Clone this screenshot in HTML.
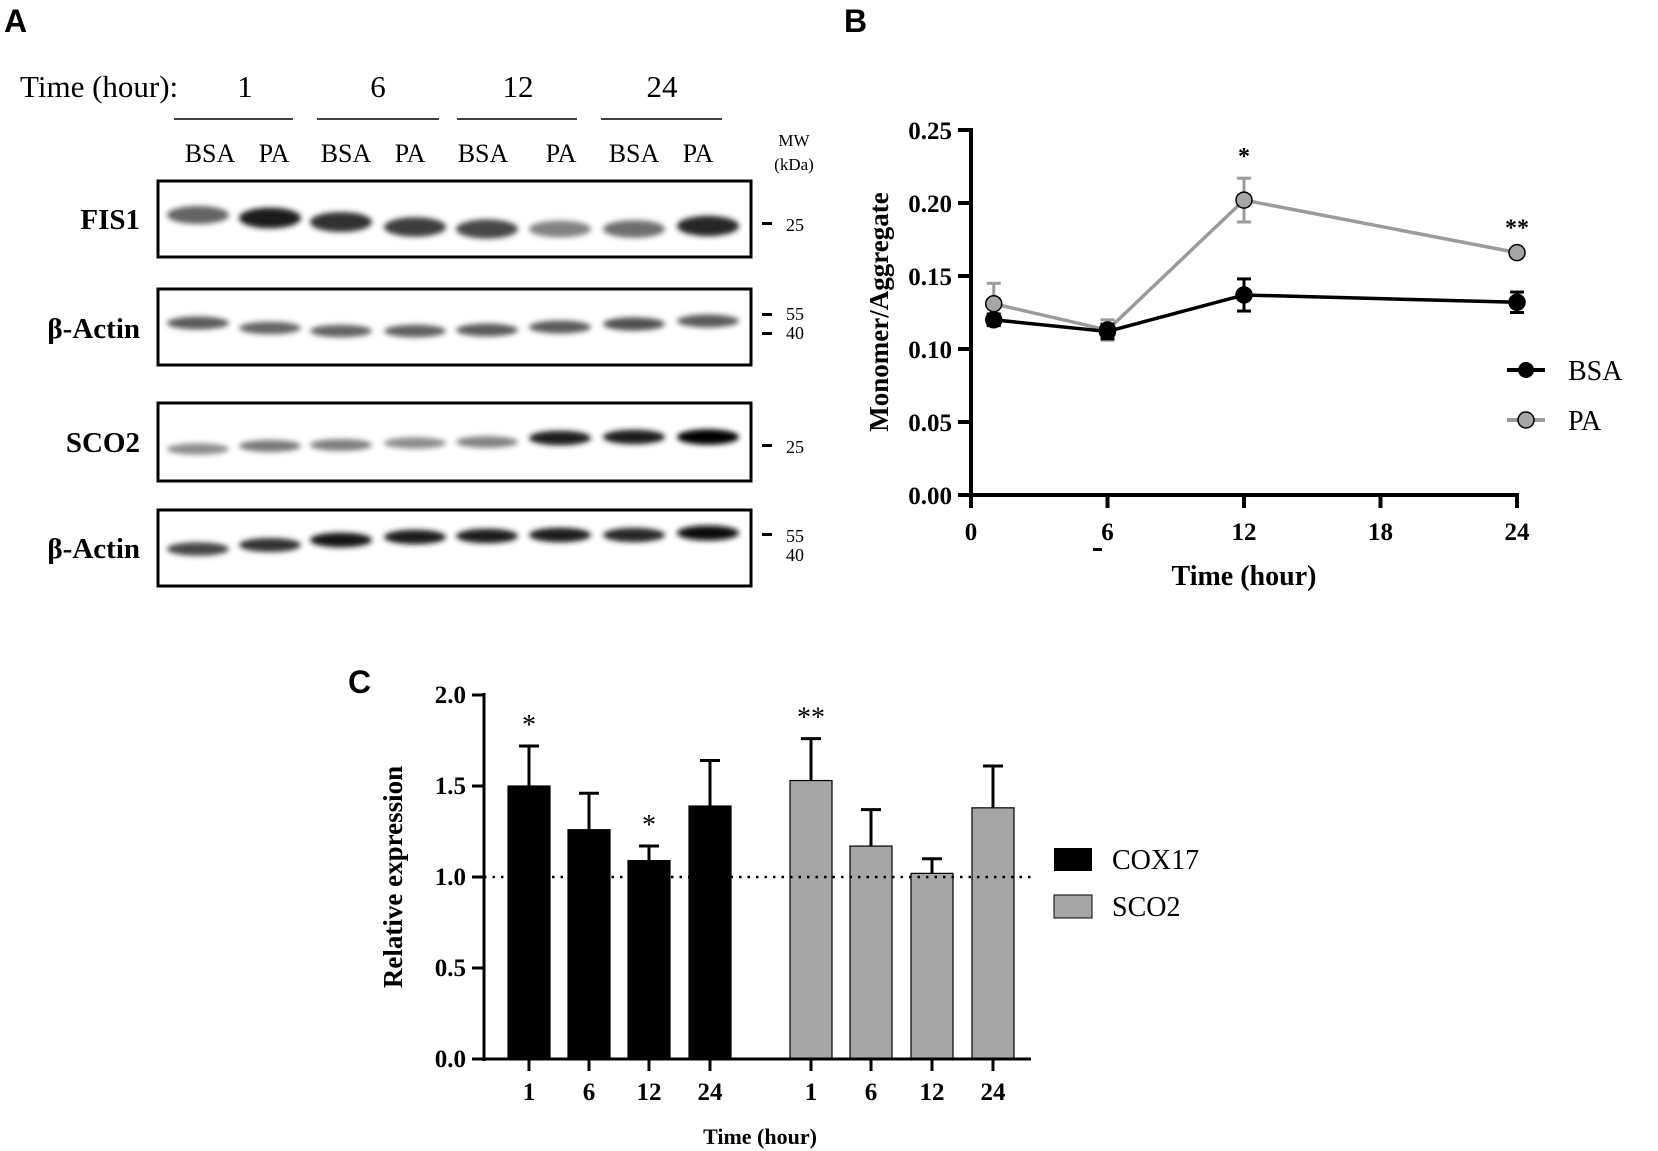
<!DOCTYPE html>
<html><head><meta charset="utf-8">
<style>
body{margin:0;background:#fff;}
svg{display:block;font-family:"Liberation Serif",serif;}
.b{font-weight:bold;}
</style></head>
<body>
<svg id="fig" width="1658" height="1151" viewBox="0 0 1658 1151" xmlns="http://www.w3.org/2000/svg">
<defs>
<filter id="blur" x="-30%" y="-100%" width="160%" height="300%"><feGaussianBlur stdDeviation="2.6"/></filter>
</defs>
<g>
<text x="4" y="32" font-family="Liberation Sans" font-weight="bold" font-size="32">A</text>
<text x="20" y="97" font-size="31">Time (hour):</text>
<g font-size="31" text-anchor="middle">
<text x="245" y="97">1</text><text x="378" y="97">6</text><text x="518" y="97">12</text><text x="662" y="97">24</text>
</g>
<g stroke="#000" stroke-width="1.5">
<line x1="174" y1="119" x2="293" y2="119"/><line x1="317" y1="119" x2="439" y2="119"/>
<line x1="457" y1="119" x2="577" y2="119"/><line x1="601" y1="119" x2="722" y2="119"/>
</g>
<g font-size="26" text-anchor="middle">
<text x="210" y="162">BSA</text><text x="274" y="162">PA</text><text x="346" y="162">BSA</text><text x="410" y="162">PA</text>
<text x="483" y="162">BSA</text><text x="561" y="162">PA</text><text x="634" y="162">BSA</text><text x="698" y="162">PA</text>
</g>
<g font-size="17" text-anchor="middle"><text x="794" y="146">MW</text><text x="794" y="170">(kDa)</text></g>
<g font-size="29" class="b" text-anchor="end">
<text x="140" y="229">FIS1</text><text x="140" y="338">β-Actin</text><text x="140" y="452">SCO2</text><text x="140" y="558">β-Actin</text>
</g>
<g id="blots"></g>
<g font-size="18">
<rect x="762" y="222" width="10" height="3"/><text x="786" y="231">25</text>
<rect x="762" y="313" width="10" height="3"/><text x="786" y="320">55</text>
<rect x="762" y="332" width="10" height="3"/><text x="786" y="339">40</text>
<rect x="762" y="444" width="10" height="3"/><text x="786" y="453">25</text>
<rect x="762" y="533" width="10" height="3"/><text x="786" y="542">55</text>
<text x="786" y="561">40</text>
</g>
</g>
<g id="panelB">
<text x="844" y="32" font-family="Liberation Sans" font-weight="bold" font-size="32">B</text>
</g>
<g id="panelC">
<text x="348" y="693" font-family="Liberation Sans" font-weight="bold" font-size="32">C</text>
</g>
</svg>
<script>
const NS="http://www.w3.org/2000/svg";
const laneX=[198,270,341,415,487,560,634,708];
const fis1=[0.5,0.85,0.75,0.7,0.65,0.35,0.45,0.8];
const fis1Y=[215,218,222,227,229,229,229,226];
const actin1=[0.55,0.5,0.5,0.52,0.55,0.55,0.6,0.55];
const actin1Y=[323,328,331,331,330,327,324,321];
const sco2=[0.3,0.4,0.37,0.3,0.35,0.85,0.85,1.0];
const sco2Y=[449,446,445,443,442,438,437,437];
const actin2=[0.65,0.75,0.9,0.85,0.85,0.85,0.8,0.95];
const actin2Y=[549,545,540,537,536,535,535,533];
</script>
<script>
const blotBoxes=[[181,257],[289,365],[403,481],[510,586]];
const blotInt=[fis1,actin1,sco2,actin2];
const blotYs=[fis1Y,actin1Y,sco2Y,actin2Y];
const blotH=[10,7,7,7];
const g=document.getElementById('blots');
blotBoxes.forEach((bx,i)=>{
  const r=document.createElementNS(NS,'rect');
  r.setAttribute('x',158);r.setAttribute('y',bx[0]);r.setAttribute('width',593);r.setAttribute('height',bx[1]-bx[0]);
  r.setAttribute('fill','#fff');r.setAttribute('stroke','#000');r.setAttribute('stroke-width','3');
  
  
  g.appendChild(r);
  laneX.forEach((x,j)=>{
    const e=document.createElementNS(NS,'ellipse');
    const v=blotInt[i][j];
    e.setAttribute('cx',x);e.setAttribute('cy',blotYs[i][j]);
    e.setAttribute('rx',31);e.setAttribute('ry',blotH[i]*(0.7+0.4*v));
    const c=Math.round(200-200*v);
    e.setAttribute('fill',`rgb(${c},${c},${c})`);e.setAttribute('filter','url(#blur)');
    
    
    g.appendChild(e);
  });
});
</script>
<script>
const bTimes=[1,6,12,24];
const bsaMean=[0.120,0.112,0.137,0.132];
const bsaErr=[0.004,0.005,0.011,0.007];
const paMean=[0.131,0.113,0.202,0.166];
const paErr=[0.014,0.007,0.015,0.002];
const bXTicks=[0,6,12,18,24];
const bYTicks=["0.00","0.05","0.10","0.15","0.20","0.25"];
const bStars=["","","*","**"];
</script>
<script>
(function(){
const P=document.getElementById('panelB');
const X=t=>971+t*22.75, Y=v=>495-v*(365/0.25);
function el(tag,at,name,parent){const e=document.createElementNS(NS,tag);for(const k in at)e.setAttribute(k,at[k]);
 
 
 (parent||P).appendChild(e);return e;}
el('line',{x1:971,y1:128,x2:971,y2:508,stroke:'#000','stroke-width':4},'b-y-axis');
el('line',{x1:969,y1:495,x2:X(24)+2,y2:495,stroke:'#000','stroke-width':4},'b-x-axis');
bYTicks.forEach(t=>{const y=Y(+t);el('line',{x1:958,y1:y,x2:971,y2:y,stroke:'#000','stroke-width':4},'b-y-tick');
 const tx=el('text',{x:952,y:y+9,'text-anchor':'end','font-size':25,'font-weight':'bold'},'b-y-tick-label');tx.textContent=t;});
bXTicks.forEach(t=>{const x=X(t);el('line',{x1:x,y1:495,x2:x,y2:508,stroke:'#000','stroke-width':4},'b-x-tick');
 const tx=el('text',{x:x,y:540,'text-anchor':'middle','font-size':25,'font-weight':'bold'},'b-x-tick-label');tx.textContent=t;});
el('rect',{x:1093,y:548,width:9,height:3},'b-stray-dash');
const yt=el('text',{x:0,y:0,transform:'translate(888,312) rotate(-90)','text-anchor':'middle','font-size':27,'font-weight':'bold'},'b-y-axis-title');yt.textContent='Monomer/Aggregate';
const xt=el('text',{x:1244,y:585,'text-anchor':'middle','font-size':28,'font-weight':'bold'},'b-x-axis-title');xt.textContent='Time (hour)';
function series(m,e,col,fill,name){
 for(let i=0;i<m.length;i++){const x=X(bTimes[i]);
  const y1=Y(m[i]+e[i]),y2=Y(m[i]-e[i]);
  el('line',{x1:x,y1:y1,x2:x,y2:y2,stroke:col,'stroke-width':3},name+'-errorbar');
  el('line',{x1:x-7,y1:y1,x2:x+7,y2:y1,stroke:col,'stroke-width':3},name+'-errorcap');
  el('line',{x1:x-7,y1:y2,x2:x+7,y2:y2,stroke:col,'stroke-width':3},name+'-errorcap');}
 el('polyline',{points:m.map((v,i)=>X(bTimes[i])+','+Y(v)).join(' '),fill:'none',stroke:col,'stroke-width':3.5},name+'-line');
 m.forEach((v,i)=>el('circle',{cx:X(bTimes[i]),cy:Y(v),r:8,fill:fill,stroke:'#000','stroke-width':1.5},name+'-point'));
}
series(paMean,paErr,'#9b9b9b','#a6a6a6','pa');
series(bsaMean,bsaErr,'#000','#000','bsa');
bStars.forEach((s,i)=>{if(!s)return;const t=el('text',{x:X(bTimes[i]),y:Y(paMean[i]+paErr[i])-14,'text-anchor':'middle','font-size':24,'font-weight':'bold'},'b-significance');t.textContent=s;});
el('line',{x1:1507,y1:370,x2:1545,y2:370,stroke:'#000','stroke-width':4},'legend-bsa-line');
el('circle',{cx:1526,cy:370,r:8,fill:'#000'},'legend-bsa-marker');
const l1=el('text',{x:1568,y:380,'font-size':28},'legend-bsa-label');l1.textContent='BSA';
el('line',{x1:1507,y1:420,x2:1545,y2:420,stroke:'#9b9b9b','stroke-width':4},'legend-pa-line');
el('circle',{cx:1526,cy:420,r:8,fill:'#a6a6a6',stroke:'#000','stroke-width':1.5},'legend-pa-marker');
const l2=el('text',{x:1568,y:430,'font-size':28},'legend-pa-label');l2.textContent='PA';
})();
</script>
<script>
const cCats=["1","6","12","24"];
const cox17=[1.50,1.26,1.09,1.39];
const cox17Err=[0.22,0.20,0.08,0.25];
const sco2Rel=[1.53,1.17,1.02,1.38];
const sco2Err=[0.23,0.20,0.08,0.23];
const cox17Stars=["*","","*",""];
const sco2Stars=["**","","",""];
const cYTicks=["0.0","0.5","1.0","1.5","2.0"];
</script>
<script>
(function(){
const P=document.getElementById('panelC');
const Y=v=>1059-v*(364/2);
const coxX=[529,589,649,710], scoX=[811,871,932,993];
function el(tag,at,name){const e=document.createElementNS(NS,tag);for(const k in at)e.setAttribute(k,at[k]);
 
 
 P.appendChild(e);return e;}
function bars(vals,errs,xs,fill,name,stars){
 vals.forEach((v,i)=>{const x=xs[i];
  el('line',{x1:x,y1:Y(v),x2:x,y2:Y(v+errs[i]),stroke:'#000','stroke-width':3},name+'-errorbar');
  el('line',{x1:x-10,y1:Y(v+errs[i]),x2:x+10,y2:Y(v+errs[i]),stroke:'#000','stroke-width':3},name+'-errorcap');
  el('rect',{x:x-21,y:Y(v),width:42,height:Y(0)-Y(v),fill:fill,stroke:'#000','stroke-width':1.2},name+'-bar');
  if(stars[i]){const t=el('text',{x:x,y:Y(v+errs[i])-12,'text-anchor':'middle','font-size':28},name+'-significance');t.textContent=stars[i];}
  el('line',{x1:x,y1:1059,x2:x,y2:1071,stroke:'#000','stroke-width':3},'c-x-tick');
  const tl=el('text',{x:x,y:1100,'text-anchor':'middle','font-size':25,'font-weight':'bold'},'c-x-tick-label');tl.textContent=cCats[i];
 });}
bars(cox17,cox17Err,coxX,'#000','cox17',cox17Stars);
bars(sco2Rel,sco2Err,scoX,'#a6a6a6','sco2',sco2Stars);
el('line',{x1:484,y1:Y(1),x2:1031,y2:Y(1),stroke:'#000','stroke-width':2.5,'stroke-dasharray':'2.5 6'},'c-reference-line');
el('line',{x1:484,y1:693,x2:484,y2:1061,stroke:'#000','stroke-width':3},'c-y-axis');
el('line',{x1:484,y1:1059,x2:1031,y2:1059,stroke:'#000','stroke-width':3},'c-x-axis');
cYTicks.forEach(t=>{const y=Y(+t);el('line',{x1:472,y1:y,x2:484,y2:y,stroke:'#000','stroke-width':3},'c-y-tick');
 const tx=el('text',{x:466,y:y+8,'text-anchor':'end','font-size':25,'font-weight':'bold'},'c-y-tick-label');tx.textContent=t;});
const yt=el('text',{x:0,y:0,transform:'translate(402,877) rotate(-90)','text-anchor':'middle','font-size':27,'font-weight':'bold'},'c-y-axis-title');yt.textContent='Relative expression';
const xt=el('text',{x:760,y:1144,'text-anchor':'middle','font-size':22,'font-weight':'bold'},'c-x-axis-title');xt.textContent='Time (hour)';
el('rect',{x:1054,y:848,width:38,height:23,fill:'#000'},'legend-cox17-swatch');
const a=el('text',{x:1112,y:869,'font-size':28},'legend-cox17-label');a.textContent='COX17';
el('rect',{x:1054,y:895,width:38,height:23,fill:'#a6a6a6',stroke:'#000','stroke-width':1},'legend-sco2-swatch');
const b=el('text',{x:1112,y:916,'font-size':28},'legend-sco2-label');b.textContent='SCO2';
})();
</script>
</body></html>
